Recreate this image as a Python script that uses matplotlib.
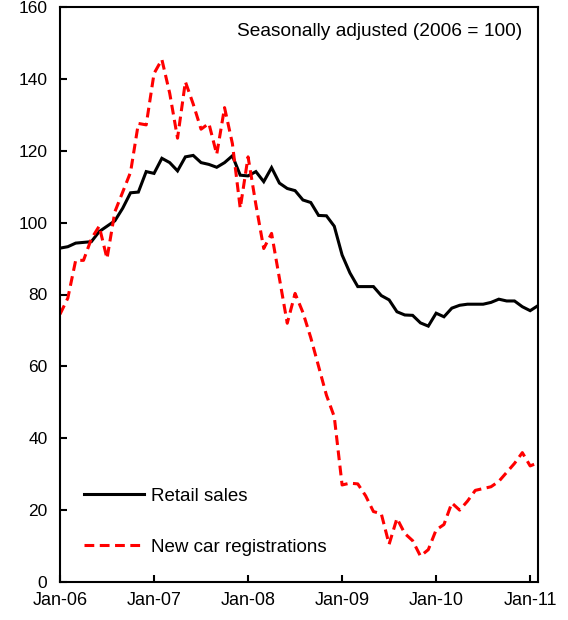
import matplotlib
matplotlib.use("Agg")
import matplotlib.pyplot as plt
import numpy as np

plt.rcParams['font.family'] = ['Liberation Sans', 'DejaVu Sans']

tick_labels = ["Jan-06", "Jan-07", "Jan-08", "Jan-09", "Jan-10", "Jan-11"]
y_ticks = [0, 20, 40, 60, 80, 100, 120, 140, 160]

retail_sales = [92.9, 93.3, 94.3, 94.5, 94.7, 97.5, 99.0, 100.5, 104.0, 108.3,
                108.5, 114.2, 113.7, 117.9, 116.7, 114.4, 118.3, 118.7, 116.7, 116.2,
                115.4, 116.7, 118.6, 113.2, 113.0, 114.2, 111.4, 115.3, 111.0, 109.5,
                108.9, 106.3, 105.6, 102.0, 101.9, 99.0, 91.0, 86.0, 82.2, 82.2,
                82.2, 79.7, 78.5, 75.2, 74.3, 74.2, 72.1, 71.2, 74.8, 73.8,
                76.2, 77.0, 77.3, 77.3, 77.3, 77.8, 78.7, 78.2, 78.2, 76.6,
                75.5, 76.9]

new_car_registrations = [74.5, 79.0, 89.5, 89.5, 95.5, 99.0, 90.0, 103.0, 108.5, 114.0,
                         127.6, 127.2, 141.5, 145.4, 136.0, 123.5, 139.2, 133.0, 126.0, 127.6,
                         119.0, 132.0, 122.0, 104.0, 118.3, 105.0, 92.8, 97.0, 84.5, 72.0,
                         80.3, 75.0, 68.0, 60.0, 52.0, 46.0, 27.0, 27.5, 27.3, 24.0,
                         19.6, 19.0, 10.5, 17.7, 13.5, 11.5, 7.2, 9.0, 14.5, 16.0,
                         22.0, 20.0, 22.5, 25.5, 26.0, 26.5, 28.0, 30.5, 33.0, 36.0,
                         32.3, 33.2]

fig = plt.figure(figsize=(5.68, 6.2), dpi=100)
ax = fig.add_axes([60/568, 1 - 582/620, (538 - 60)/568, (582 - 7)/620])

x = np.arange(len(retail_sales))
ax.plot(x, retail_sales, color='black', lw=2.2, label='Retail sales', solid_joinstyle='miter')
ax.plot(x, new_car_registrations, color='#FF0000', lw=2.2, ls=(0, (3.2, 1.8)),
        label='New car registrations')

ax.set_xlim(0, len(retail_sales) - 1)
ax.set_ylim(0, 160)
ax.set_yticks(y_ticks)
ax.set_xticks(np.arange(0, 61, 12))
ax.set_xticklabels(tick_labels)

ax.tick_params(direction='in', length=5, width=1.5, color='black')
ax.tick_params(axis='x', pad=7, labelsize=13)
ax.tick_params(axis='y', pad=9, labelsize=12.5)
for s in ax.spines.values():
    s.set_linewidth(1.5)
    s.set_color('black')

ax.text(0.968, 0.957, 'Seasonally adjusted (2006 = 100)', transform=ax.transAxes,
        ha='right', va='center', fontsize=13.8)

leg = ax.legend(loc='lower left', bbox_to_anchor=(0.014, 0.016), frameon=False,
                fontsize=13.5, handlelength=3.2, labelspacing=1.8, handletextpad=0.4)

fig.savefig('out.png', dpi=100)
